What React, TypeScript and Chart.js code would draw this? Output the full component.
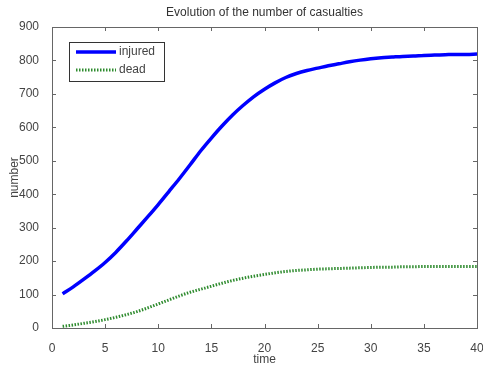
import React, { useEffect, useRef } from "react";
import { Chart, registerables } from "chart.js";

Chart.register(...registerables);

const chartTitle = "Evolution of the number of casualties";
const xTitle = "time";
const yTitle = "number";
const seriesNames = ["injured", "dead"];
const times = [1,2,3,4,5,6,7,8,9,10,11,12,13,14,15,16,17,18,19,20,21,22,23,24,25,26,27,28,29,30,31,32,33,34,35,36,37,38,39,40];
const injured = [102,123,146,170,196,226,260,296,332,369,408,447,488,530,568,604,637,666,692,714,733,749,761,770,777,784,790,796,801,805,808,810,812,813,815,816,817,818,818,819];
const dead = [5,9,14,19,25,32,40,49,60,72,84,96,107,116,125,134,142,149,155,160,165,169,172,174,176,177,178,179,180,181,182,182,183,183,184,184,184,184,184,184];
const xTicks = [0,5,10,15,20,25,30,35,40];
const yTicks = [0,100,200,300,400,500,600,700,800,900];

const FONT = "'Liberation Sans', Arial, sans-serif";

const boxPlugin = {
  id: "matlabBox",
  afterDraw(chart: any) {
    const { ctx, chartArea: a, scales } = chart;
    ctx.save();
    ctx.strokeStyle = "#666";
    ctx.lineWidth = 1;
    ctx.strokeRect(Math.round(a.left) + 0.5, Math.round(a.top) + 0.5, Math.round(a.right - a.left), Math.round(a.bottom - a.top));
    const tl = 4;
    ctx.beginPath();
    for (const v of xTicks) {
      const x = Math.round(scales.x.getPixelForValue(v)) + 0.5;
      ctx.moveTo(x, a.bottom); ctx.lineTo(x, a.bottom - tl);
      ctx.moveTo(x, a.top); ctx.lineTo(x, a.top + tl);
    }
    for (const v of yTicks) {
      const y = Math.round(scales.y.getPixelForValue(v)) + 0.5;
      ctx.moveTo(a.left, y); ctx.lineTo(a.left + tl, y);
      ctx.moveTo(a.right, y); ctx.lineTo(a.right - tl, y);
    }
    ctx.stroke();
    // title
    ctx.fillStyle = "#333";
    ctx.font = `12px ${FONT}`;
    ctx.textAlign = "center";
    ctx.textBaseline = "middle";
    ctx.fillText(chartTitle, (a.left + a.right) / 2, 13);
    // legend
    const lx = 69, ly = 42, lw = 95, lh = 39;
    ctx.fillStyle = "#fff";
    ctx.fillRect(lx, ly, lw, lh);
    ctx.strokeStyle = "#333";
    ctx.strokeRect(lx + 0.5, ly + 0.5, lw, lh);
    chart.data.datasets.forEach((ds: any, i: number) => {
      const yy = ly + 10 + i * 18;
      ctx.beginPath();
      ctx.strokeStyle = ds.borderColor;
      ctx.lineWidth = ds.borderWidth;
      ctx.setLineDash(ds.borderDash || []);
      ctx.moveTo(lx + 7, yy);
      ctx.lineTo(lx + 47, yy);
      ctx.stroke();
      ctx.setLineDash([]);
      ctx.fillStyle = "#444";
      ctx.font = `12px ${FONT}`;
      ctx.textAlign = "left";
      ctx.fillText(ds.label, lx + 50, yy);
    });
    ctx.restore();
  },
};

export default function App() {
  const ref = useRef<HTMLCanvasElement>(null);
  useEffect(() => {
    document.body.style.margin = "0";
    const chart = new Chart(ref.current!, {
      type: "line",
      data: {
        datasets: [
          {
            label: seriesNames[0],
            data: times.map((t, i) => ({ x: t, y: injured[i] })),
            borderColor: "#0000ff",
            borderWidth: 3.5,
            pointRadius: 0,
            cubicInterpolationMode: "monotone",
          },
          {
            label: seriesNames[1],
            data: times.map((t, i) => ({ x: t, y: dead[i] })),
            borderColor: "#2e8b2e",
            borderWidth: 3,
            borderDash: [1.5, 1.5],
            pointRadius: 0,
            cubicInterpolationMode: "monotone",
          },
        ],
      },
      options: {
        animation: false,
        responsive: false,
        layout: { padding: { top: 27, right: 6, left: 0, bottom: 0 } },
        plugins: { legend: { display: false }, title: { display: false }, tooltip: { enabled: false } },
        scales: {
          x: {
            type: "linear",
            min: 0,
            max: 40,
            afterBuildTicks: (s: any) => { s.ticks = xTicks.map((v) => ({ value: v })); },
            afterFit: (s: any) => { s.height = 39; s.paddingLeft = 0; s.paddingRight = 0; },
            grid: { display: false },
            border: { display: false },
            ticks: { padding: 5, color: "#444", font: { family: FONT, size: 12 }, maxRotation: 0 },
            title: { display: true, text: xTitle, color: "#444", font: { family: FONT, size: 12 }, padding: { top: 0, bottom: 0 } },
          },
          y: {
            type: "linear",
            min: 0,
            max: 900,
            afterBuildTicks: (s: any) => { s.ticks = yTicks.map((v) => ({ value: v })); },
            afterFit: (s: any) => { s.width = 52; s.paddingTop = 0; s.paddingBottom = 0; },
            grid: { display: false },
            border: { display: false },
            ticks: { padding: 5, color: "#444", font: { family: FONT, size: 12 } },
            title: { display: true, text: yTitle, color: "#444", font: { family: FONT, size: 12 }, padding: { top: 7, bottom: 0 } },
          },
        },
      },
      plugins: [boxPlugin],
    });
    return () => chart.destroy();
  }, []);
  return <canvas ref={ref} width={483} height={367} style={{ display: "block" }} />;
}
